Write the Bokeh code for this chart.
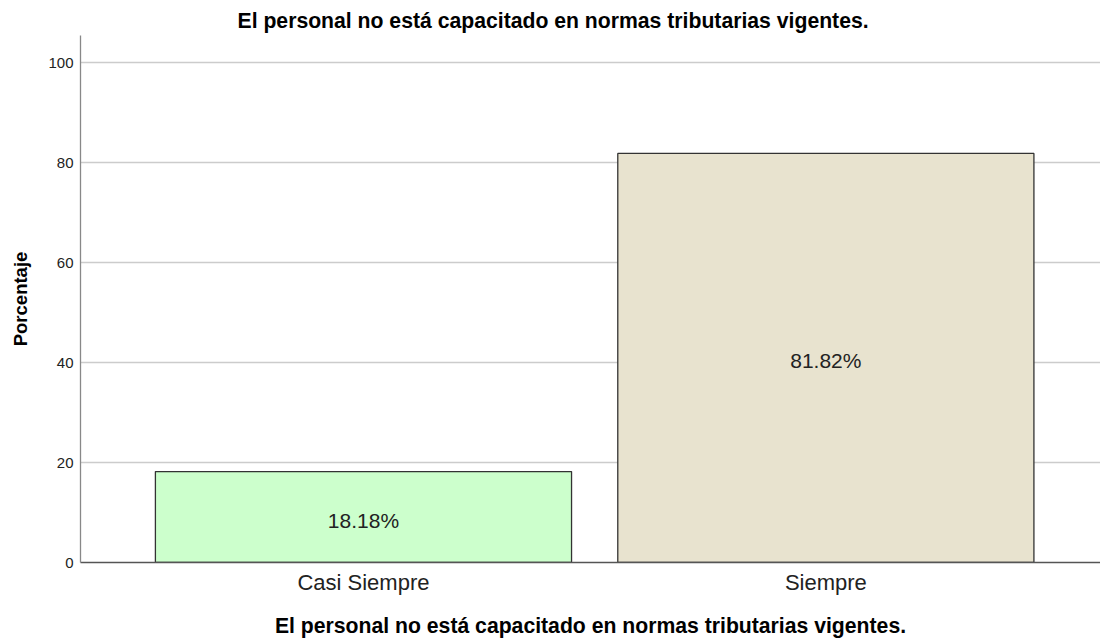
from bokeh.plotting import figure
from bokeh.models import ColumnDataSource, FixedTicker, Range1d
from bokeh.core.properties import value
from bokeh.embed import file_html
from bokeh.resources import INLINE

categories = ["Casi Siempre", "Siempre"]
percentages = [18.18, 81.82]
colors = ["#CCFFCC", "#E8E3CF"]
y_ticks = [0, 20, 40, 60, 80, 100]
title_text = "El personal no está capacitado en normas tributarias vigentes."
x_label = "El personal no está capacitado en normas tributarias vigentes."
y_label = "Porcentaje"

FONT = "Liberation Sans"

xs = list(range(len(categories)))
src = ColumnDataSource(dict(
    x=xs,
    top=percentages,
    mid=[v / 2 for v in percentages],
    lab=[f"{v:.2f}%" for v in percentages],
    color=colors,
))

p = figure(width=1100, height=639, output_backend="svg", toolbar_location=None,
           x_range=Range1d(-0.612, 1.594), y_range=Range1d(0, 105.4),
           min_border_left=80, min_border_right=0, min_border_top=35, min_border_bottom=77)

p.title.text = title_text
p.title.align = "left"
p.title.offset = 157
p.title.text_font = FONT
p.title.text_font_size = "21.2px"
p.title.text_font_style = "bold"
p.title.text_color = "#000000"
p.title.standoff = 8

p.vbar(x="x", top="top", width=0.9, bottom=0, source=src, fill_color="color",
       line_color="#333333", line_width=1.3)

p.text(x="x", y="mid", text="lab", source=src, text_align="center",
       text_baseline="middle", y_offset=3, text_font=value(FONT),
       text_font_size="21px", text_color="#222222")

p.outline_line_color = None
p.xgrid.grid_line_color = None
p.ygrid.grid_line_color = "#cccccc"
p.ygrid.grid_line_width = 1.3

p.yaxis.ticker = FixedTicker(ticks=y_ticks)
p.yaxis.minor_tick_line_color = None
p.yaxis.major_tick_line_color = None
p.yaxis.major_tick_out = 0
p.yaxis.major_tick_in = 0
p.yaxis.minor_tick_out = 0
p.yaxis.minor_tick_in = 0
p.yaxis.major_label_standoff = 7
p.yaxis.major_label_text_font = FONT
p.yaxis.major_label_text_font_size = "15px"
p.yaxis.major_label_text_color = "#222222"
p.yaxis.axis_line_color = "#888888"
p.yaxis.axis_line_width = 1.3
p.yaxis.axis_label = y_label
p.yaxis.axis_label_text_font = FONT
p.yaxis.axis_label_text_font_size = "18.5px"
p.yaxis.axis_label_text_font_style = "bold"
p.yaxis.axis_label_text_color = "#000000"
p.yaxis.axis_label_standoff = 14

p.xaxis.ticker = FixedTicker(ticks=xs)
p.xaxis.major_label_overrides = {i: c for i, c in zip(xs, categories)}
p.xaxis.minor_tick_line_color = None
p.xaxis.major_tick_line_color = None
p.xaxis.major_tick_out = 0
p.xaxis.major_tick_in = 0
p.xaxis.minor_tick_out = 0
p.xaxis.minor_tick_in = 0
p.xaxis.major_label_standoff = 7
p.xaxis.major_label_text_font = FONT
p.xaxis.major_label_text_font_size = "22px"
p.xaxis.major_label_text_color = "#222222"
p.xaxis.axis_line_color = "#555555"
p.xaxis.axis_line_width = 1.3
p.xaxis.axis_label = x_label
p.xaxis.axis_label_text_font = FONT
p.xaxis.axis_label_text_font_size = "21.2px"
p.xaxis.axis_label_text_font_style = "bold"
p.xaxis.axis_label_text_color = "#000000"
p.xaxis.axis_label_standoff = 16

open("out.html", "w").write(file_html(p, INLINE))
